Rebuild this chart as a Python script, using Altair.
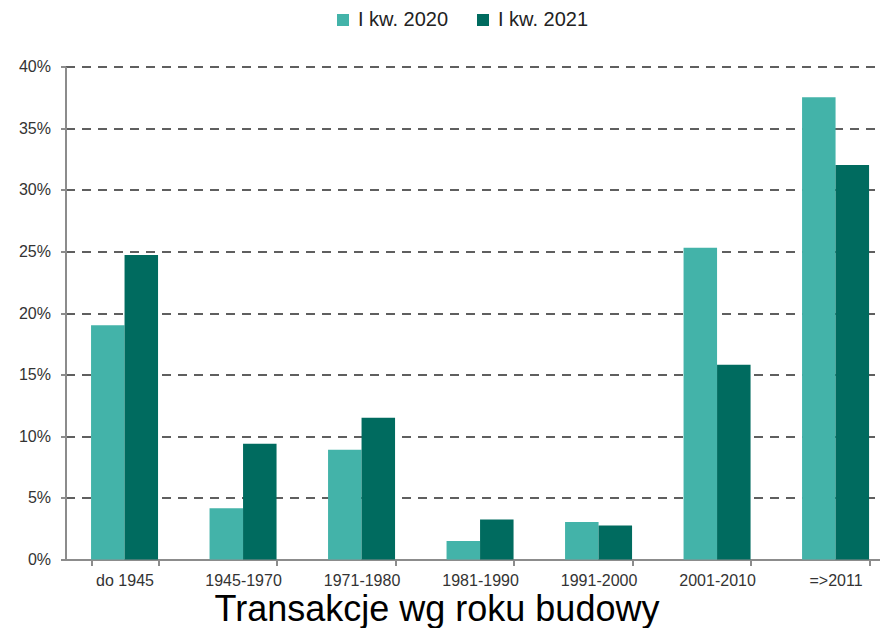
import altair as alt
import pandas as pd

categories = ["do 1945", "1945-1970", "1971-1980", "1981-1990", "1991-2000", "2001-2010", "=>2011"]
series = ["I kw. 2020", "I kw. 2021"]
values_2020 = [0.190, 0.0415, 0.089, 0.015, 0.0305, 0.253, 0.375]
values_2021 = [0.247, 0.094, 0.115, 0.0325, 0.0275, 0.158, 0.320]
y_ticks = [0.0, 0.05, 0.10, 0.15, 0.20, 0.25, 0.30, 0.35, 0.40]
colors = ["#43B3A9", "#006B5F"]
x_title = "Transakcje wg roku budowy"

rows = []
for c, a, b in zip(categories, values_2020, values_2021):
    rows.append({"kat": c, "seria": series[0], "udzial": a})
    rows.append({"kat": c, "seria": series[1], "udzial": b})
df = pd.DataFrame(rows)

FONT = "Liberation Sans, Arial, sans-serif"

chart = alt.Chart(df).mark_bar().encode(
    x=alt.X(
        "kat:N",
        sort=categories,
        scale=alt.Scale(paddingInner=0.4346, paddingOuter=0.1518, align=0.71),
        axis=alt.Axis(
            title=x_title,
            labelAngle=0,
            tickBand="extent",
            domainColor="#8c8c8c",
            domainWidth=2,
            tickColor="#8c8c8c",
            tickWidth=2,
            tickSize=6,
            labelPadding=7,
            labelFont=FONT,
            labelFontSize=16,
            labelColor="#333333",
            titleFont=FONT,
            titleFontSize=36,
            titleFontWeight="normal",
            titleColor="#000000",
            titleX=371,
            titleY=61,
            titleAlign="center",
            titleBaseline="alphabetic",
            grid=False,
        ),
    ),
    xOffset=alt.XOffset("seria:N", sort=series, scale=alt.Scale(paddingInner=0, paddingOuter=0)),
    y=alt.Y(
        "udzial:Q",
        scale=alt.Scale(domain=[0, 0.4], nice=False),
        axis=alt.Axis(
            title=None,
            values=y_ticks,
            format=".0%",
            domainColor="#8c8c8c",
            domainWidth=2,
            tickColor="#8c8c8c",
            tickWidth=2,
            tickSize=5,
            labelPadding=10,
            labelFont=FONT,
            labelFontSize=16,
            labelColor="#333333",
            grid=True,
            gridColor="#5f5f5f",
            gridWidth=2,
            gridDash=[9, 7],
        ),
    ),
    color=alt.Color(
        "seria:N",
        sort=series,
        scale=alt.Scale(domain=series, range=colors),
        legend=alt.Legend(
            title=None,
            orient="none",
            legendX=267.5,
            legendY=-56.5,
            direction="horizontal",
            symbolType="square",
            symbolSize=144,
            symbolStrokeWidth=0,
            labelFont=FONT,
            labelFontSize=20,
            labelColor="#222222",
            labelOffset=5,
            columnPadding=24,
            labelLimit=300,
        ),
    ),
).properties(
    width=814,
    height=493,
    autosize=alt.AutoSizeParams(type="none"),
    padding={"left": 57.5, "top": 58.5, "right": 0, "bottom": 68.5},
).configure_view(stroke=None)

chart.save("out.html", embed_options={"renderer": "svg", "actions": False})
